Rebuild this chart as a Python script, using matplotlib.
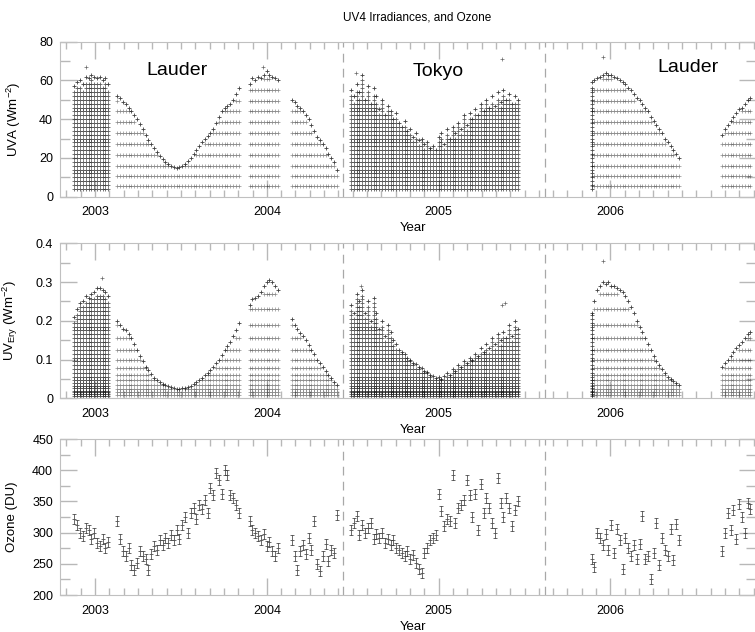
import numpy as np
import matplotlib
matplotlib.use("Agg")
import matplotlib.pyplot as plt
from matplotlib.path import Path
from matplotlib.ticker import MultipleLocator, FormatStrFormatter

plt.rcParams['font.family'] = ['Liberation Sans', 'DejaVu Sans']

STEP = 6 / 365.25  # one sample every six days

# first sample date of each measurement block (decimal year)
starts = [2002.88, 2003.13, 2003.90, 2004.145, 2004.49, 2005.89, 2006.65]
# blocks drawn as full diurnal scans instead of fixed-SZA bands
dense = [True, False, False, False, True, False, False]

# daily maximum UVA (W m-2)
uva_s1 = [57, 59, 60, 58, 62, 61, 63, 62, 61, 62, 60, 61, 58]
uva_s2 = [52, 51, 49, 48, 46, 44, 42, 40, 37.5, 35, 32, 29.5, 27, 25, 23,
          21, 19.5, 18, 17, 16, 15.5, 15, 15.5, 16, 17, 18.5, 20, 22, 24, 26,
          28, 30, 31.5, 33, 35, 38, 41, 44, 46, 47, 48, 50, 53, 56]
uva_s3 = [58, 61, 60, 62, 61, 63, 65, 63, 62, 61, 60]
uva_s4 = [50, 49, 47, 46, 44, 42, 40, 37, 34, 31, 29, 27, 25, 22, 20, 18, 14]
uva_s5 = [55, 52, 58, 54, 63, 50, 57, 48, 56, 52, 45, 50, 42, 47, 44, 40, 43,
          38, 36, 39, 34, 35, 31, 33, 29, 30, 27, 28, 25, 26, 24, 31, 33, 27,
          35, 30, 36, 33, 38, 35, 42, 37, 43, 40, 45, 42, 48, 44, 50, 46, 52,
          47, 54, 49, 55, 50, 53, 48, 52, 50]
uva_s6 = [59, 60, 61, 62, 63, 64, 63, 63, 62, 61, 60, 59, 58, 56, 55, 53, 51,
          50, 48, 46, 44, 41, 39, 37, 35, 33, 30, 28, 26, 24, 22, 20]
uva_s7 = [32, 35, 37, 39, 41, 43, 45, 46, 48, 50, 51]

# daily maximum erythemal UV (W m-2)
ery_s1 = [0.21, 0.23, 0.245, 0.25, 0.265, 0.26, 0.27, 0.275, 0.285, 0.285,
          0.28, 0.275, 0.265]
ery_s2 = [0.2, 0.19, 0.18, 0.175, 0.165, 0.155, 0.14, 0.125, 0.11, 0.095,
          0.082, 0.072, 0.062, 0.053, 0.046, 0.041, 0.037, 0.034, 0.031, 0.028,
          0.026, 0.025, 0.025, 0.026, 0.027, 0.029, 0.032, 0.036, 0.041, 0.047,
          0.053, 0.06, 0.066, 0.073, 0.08, 0.09, 0.1, 0.112, 0.125, 0.135,
          0.145, 0.16, 0.175, 0.195]
ery_s3 = [0.24, 0.255, 0.26, 0.265, 0.275, 0.29, 0.3, 0.305, 0.3, 0.29, 0.28]
ery_s4 = [0.205, 0.19, 0.18, 0.168, 0.16, 0.15, 0.138, 0.125, 0.115, 0.1,
          0.09, 0.08, 0.07, 0.06, 0.052, 0.042, 0.035]
ery_s5 = [0.24, 0.22, 0.27, 0.25, 0.28, 0.22, 0.25, 0.2, 0.26, 0.22,
          0.18, 0.2, 0.16, 0.19, 0.17, 0.15, 0.14, 0.125, 0.12, 0.115,
          0.105, 0.1, 0.09, 0.088, 0.08, 0.078, 0.07, 0.068, 0.06, 0.058,
          0.052, 0.055, 0.05, 0.058, 0.065, 0.06, 0.075, 0.07, 0.085, 0.08,
          0.095, 0.09, 0.105, 0.1, 0.115, 0.11, 0.13, 0.12, 0.14, 0.13,
          0.155, 0.14, 0.165, 0.15, 0.17, 0.155, 0.19, 0.16, 0.2, 0.18]
ery_s6 = [0.22, 0.25, 0.28, 0.29, 0.3, 0.295, 0.3, 0.29, 0.29, 0.285,
          0.28, 0.275, 0.265, 0.25, 0.235, 0.22, 0.2, 0.185, 0.17, 0.155,
          0.14, 0.125, 0.11, 0.095, 0.085, 0.075, 0.065, 0.055, 0.05, 0.045,
          0.04, 0.035]
ery_s7 = [0.08, 0.09, 0.1, 0.11, 0.12, 0.13, 0.138, 0.145, 0.155, 0.165, 0.17]

# total column ozone (DU)
o3_s1 = [322, 312, 300, 295, 308, 304, 290, 300, 283, 278, 290, 275, 285]
o3_s2 = [318, 290, 270, 262, 275, 248, 240, 252, 270, 262, 258, 240, 266,
         278, 272, 288, 280, 292, 284, 296, 288, 305, 290, 312, 325, 300, 332,
         340, 322, 345, 338, 352, 332, 372, 360, 395, 385, 362, 400, 392, 360,
         355, 345, 332]
o3_s3 = [318, 305, 300, 295, 288, 298, 278, 285, 270, 262, 276]
o3_s4 = [288, 262, 240, 270, 280, 265, 292, 272, 318, 250, 238, 262, 282, 255,
         272, 268, 328]
o3_s5 = [305, 315, 326, 296, 312, 300, 308, 316, 290, 298, 292, 300, 284, 290,
         280, 288, 276, 272, 268, 262, 270, 258, 264, 252, 242, 236, 268, 276,
         288, 292, 296, 362, 335, 310, 322, 318, 392, 316, 340, 345, 352, 384,
         360, 325, 362, 305, 378, 332, 356, 340, 315, 300, 388, 348, 325, 356,
         340, 310, 336, 350]
o3_s6 = [258, 245, 300, 292, 280, 298, 272, 312, 268, 306, 288, 242, 292, 276,
         262, 280, 258, 282, 326, 258, 262, 225, 268, 316, 248, 292, 272, 262,
         306, 256, 314, 288]
o3_s7 = [270, 300, 332, 305, 336, 290, 346, 325, 300, 348, 338]

# irradiance levels of the fixed solar-zenith-angle scans at Lauder
uva_bands = [5.5, 10.5, 16, 21.5, 27, 33, 38.5, 44, 49.5, 55, 60.5]
ery_bands = [0.008, 0.016, 0.025, 0.035, 0.047, 0.06, 0.078, 0.1, 0.125,
             0.155, 0.19, 0.23, 0.27]
# levels of the continuous scans (Tokyo and early Lauder)
uva_scan = list(range(4, 72, 2))
ery_scan = [0.005, 0.01, 0.015, 0.02, 0.026, 0.032, 0.04, 0.048, 0.056,
            0.065, 0.075, 0.085, 0.095, 0.105, 0.115, 0.125, 0.135, 0.145,
            0.155, 0.165, 0.175, 0.185, 0.195, 0.205, 0.215, 0.225, 0.235,
            0.245, 0.255, 0.265, 0.275, 0.285]

# isolated high readings
uva_spike_t = [2002.95, 2003.98, 2004.52, 2005.37, 2005.955]
uva_spike_v = [67, 67, 64, 71, 72]
ery_spike_t = [2003.04, 2004.55, 2005.37, 2005.385, 2005.955]
ery_spike_v = [0.31, 0.29, 0.24, 0.245, 0.355]

# single full diurnal scan at the restart of Lauder measurements
col_t = [2005.89]
uva_col_top = [60]
ery_col_top = [0.23]

uva_blocks = [uva_s1, uva_s2, uva_s3, uva_s4, uva_s5, uva_s6, uva_s7]
ery_blocks = [ery_s1, ery_s2, ery_s3, ery_s4, ery_s5, ery_s6, ery_s7]
o3_blocks = [o3_s1, o3_s2, o3_s3, o3_s4, o3_s5, o3_s6, o3_s7]

site_labels = [("Lauder", 2003.48, 65), ("Tokyo", 2005.0, 64.5),
               ("Lauder", 2006.45, 66.5)]
site_changes = [2004.4435, 2005.619]

XMIN, XMAX = 2002.7963, 2006.8475
PT = dict(marker='+', ls='none', color='k')


def sample_dates(start, vals):
    return start + STEP * np.arange(len(vals))


def levels_below(ax, t, v, levels, **kw):
    for lev in levels:
        m = v > lev * 1.04
        ax.plot(t[m], np.full(m.sum(), lev), **kw, **PT)


def draw_uv(ax, blocks, bands, scan, spike_t, spike_v, col_top):
    for start, vals, full in zip(starts, blocks, dense):
        t = sample_dates(start, vals)
        v = np.asarray(vals, dtype=float)
        if full:
            levels_below(ax, t, v, scan, ms=3, mew=0.6, alpha=0.62)
        else:
            levels_below(ax, t, v, bands, ms=3, mew=0.5, alpha=0.45)
        ax.plot(t, v, ms=3.5, mew=0.6, alpha=0.75, **PT)
    levels_below(ax, np.array(col_t), np.array(col_top, dtype=float), scan,
                 ms=3, mew=0.6, alpha=0.7)
    ax.plot(spike_t, spike_v, ms=3, mew=0.5, alpha=0.6, **PT)


# vertical stack of crosses: several ozone retrievals per day
stack = Path([(0, -1), (0, 1), (-0.45, -1), (0.45, -1), (-0.45, 0), (0.45, 0),
              (-0.45, 1), (0.45, 1)],
             [Path.MOVETO, Path.LINETO] * 4)

fig = plt.figure(figsize=(7.55, 6.32), dpi=100)
ax1 = fig.add_axes([0.0795, 0.6888, 0.9219, 0.2453])
ax2 = fig.add_axes([0.0795, 0.3698, 0.9219, 0.2453])
ax3 = fig.add_axes([0.0795, 0.0585, 0.9219, 0.2468])

draw_uv(ax1, uva_blocks, uva_bands, uva_scan, uva_spike_t, uva_spike_v, uva_col_top)
draw_uv(ax2, ery_blocks, ery_bands, ery_scan, ery_spike_t, ery_spike_v, ery_col_top)

for start, vals in zip(starts, o3_blocks):
    ax3.plot(sample_dates(start, vals), vals, marker=stack, ls='none',
             ms=7, mew=0.6, color='0.2', alpha=0.85)

for name, x, y in site_labels:
    ax1.text(x, y, name, fontsize=14, ha='center', va='center')

ax1.set_ylim(0, 80)
ax1.yaxis.set_major_locator(MultipleLocator(20))
ax1.yaxis.set_minor_locator(MultipleLocator(10))
ax1.set_ylabel(r'UVA (Wm$^{\mathregular{-2}}$)', fontsize=9.5)
ax1.yaxis.set_label_coords(-0.053, 0.5)

ax2.set_ylim(0, 0.4)
ax2.yaxis.set_major_locator(MultipleLocator(0.1))
ax2.yaxis.set_minor_locator(MultipleLocator(0.05))
ax2.yaxis.set_major_formatter(FormatStrFormatter('%g'))
ax2.set_ylabel(r'UV$_{\mathregular{Ery}}$ (Wm$^{\mathregular{-2}}$)', fontsize=9.5)
ax2.yaxis.set_label_coords(-0.058, 0.5)

ax3.set_ylim(200, 450)
ax3.yaxis.set_major_locator(MultipleLocator(50))
ax3.yaxis.set_minor_locator(MultipleLocator(25))
ax3.set_ylabel('Ozone (DU)', fontsize=9.5)
ax3.yaxis.set_label_coords(-0.06, 0.5)

for ax in (ax1, ax2, ax3):
    ax.set_xlim(XMIN, XMAX)
    ax.xaxis.set_major_locator(MultipleLocator(1))
    ax.xaxis.set_minor_locator(MultipleLocator(1 / 12))
    ax.xaxis.set_major_formatter(FormatStrFormatter('%d'))
    ax.tick_params(which='both', direction='in', top=True, right=True,
                   color='#b8b8b8', width=1, labelsize=9)
    ax.tick_params(axis='x', which='major', length=12, pad=7)
    ax.tick_params(axis='x', which='minor', length=5)
    ax.tick_params(axis='y', which='major', length=12, pad=5)
    ax.tick_params(axis='y', which='minor', length=7)
    for s in ax.spines.values():
        s.set_color('#c0c0c0')
    for xc in site_changes:
        ax.axvline(xc, color='#a8a8a8', lw=0.9, ls=(0, (7, 5)))
    ax.set_xlabel('Year', fontsize=9.5)
    ax.xaxis.set_label_coords(0.507, -0.165)

fig.text(0.552, 1 - 18 / 632, 'UV4 Irradiances, and Ozone', fontsize=8.5,
         ha='center', va='center')

fig.savefig('out.png', dpi=100)
